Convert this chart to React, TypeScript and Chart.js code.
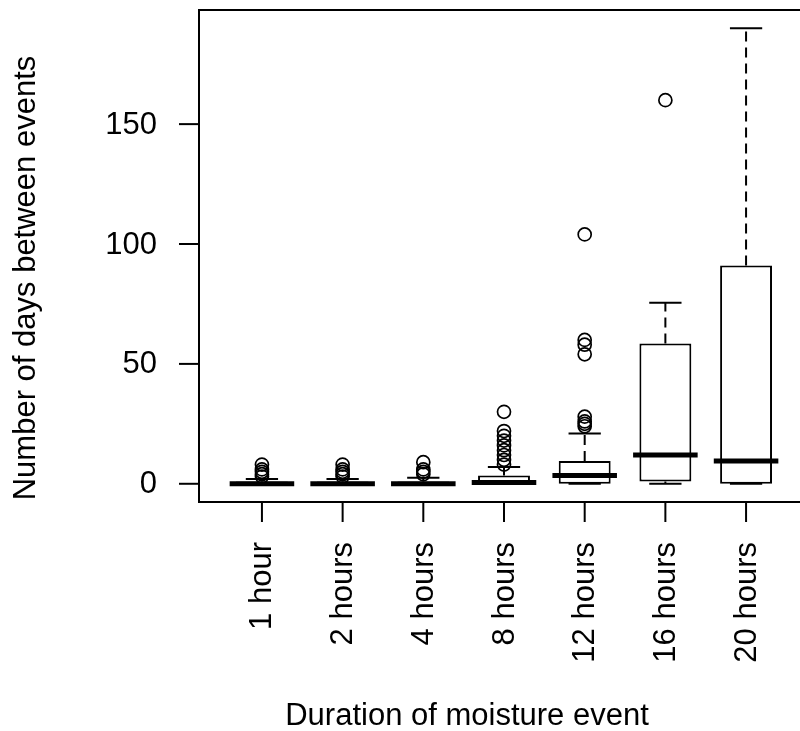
import React, { useEffect, useRef } from "react";
import { Chart, registerables } from "chart.js";

Chart.register(...registerables);

// ---- data ----
const categories = ["1 hour", "2 hours", "4 hours", "8 hours", "12 hours", "16 hours", "20 hours"];
const whiskerLow = [0, 0, 0, 0, 0, 0, 0];
const q1 = [0, 0, 0, 0, 0, 1, 0];
const medians = [0, 0, 0, 0.5, 3.5, 12, 9.5];
const q3 = [1, 1, 1, 3.5, 9.5, 58.5, 91];
const whiskerHigh = [2, 2, 2.5, 7, 21, 75.5, 190];
const outliers1h = [3, 4, 5, 6, 8];
const outliers2h = [3, 4, 5, 6, 8];
const outliers4h = [4, 5, 6, 9];
const outliers8h = [8, 10, 12, 14, 16, 18, 20, 22, 30];
const outliers12h = [24, 25, 26, 28, 54, 58, 60, 104];
const outliers16h = [160];
const outliers20h: number[] = [];
const outliers = [outliers1h, outliers2h, outliers4h, outliers8h, outliers12h, outliers16h, outliers20h];
const yTicks = [0, 50, 100, 150];
const xTitle = "Duration of moisture event";
const yTitle = "Number of days between events";

const FONT = "31px 'Liberation Sans', Arial, sans-serif";
const LW = 2;

const rPlot = {
  id: "rBoxplot",
  afterDatasetsDraw(chart: any) {
    const { ctx, chartArea, scales } = chart;
    const x = scales.x;
    const y = scales.y;
    ctx.save();
    ctx.beginPath();
    ctx.rect(chartArea.left, chartArea.top, chartArea.right - chartArea.left, chartArea.bottom - chartArea.top);
    ctx.clip();
    ctx.strokeStyle = "#000";
    categories.forEach((_, i) => {
      const cx = x.getPixelForValue(i + 1);
      const half = x.getPixelForValue(i + 1.4) - cx;
      const stapleHalf = half / 2;
      // whiskers
      ctx.lineWidth = LW;
      ctx.setLineDash([10, 6]);
      ctx.beginPath();
      ctx.moveTo(cx, y.getPixelForValue(q3[i]));
      ctx.lineTo(cx, y.getPixelForValue(whiskerHigh[i]));
      ctx.moveTo(cx, y.getPixelForValue(q1[i]));
      ctx.lineTo(cx, y.getPixelForValue(whiskerLow[i]));
      ctx.stroke();
      ctx.setLineDash([]);
      // staples
      ctx.beginPath();
      const yh = y.getPixelForValue(whiskerHigh[i]);
      const yl = y.getPixelForValue(whiskerLow[i]);
      ctx.moveTo(cx - stapleHalf, yh);
      ctx.lineTo(cx + stapleHalf, yh);
      ctx.moveTo(cx - stapleHalf, yl);
      ctx.lineTo(cx + stapleHalf, yl);
      ctx.stroke();
      // median
      ctx.lineWidth = 5;
      ctx.beginPath();
      const ym = y.getPixelForValue(medians[i]);
      ctx.moveTo(cx - half, ym);
      ctx.lineTo(cx + half, ym);
      ctx.stroke();
    });
    ctx.restore();
  },
  afterDraw(chart: any) {
    const { ctx, chartArea, scales } = chart;
    const x = scales.x;
    const y = scales.y;
    ctx.save();
    ctx.strokeStyle = "#000";
    ctx.fillStyle = "#000";
    ctx.lineWidth = LW;
    // frame
    ctx.strokeRect(chartArea.left, chartArea.top, chartArea.right - chartArea.left, chartArea.bottom - chartArea.top);
    const tick = 20;
    // y ticks
    ctx.font = FONT;
    ctx.textAlign = "right";
    ctx.textBaseline = "middle";
    yTicks.forEach((v) => {
      const py = y.getPixelForValue(v);
      ctx.beginPath();
      ctx.moveTo(chartArea.left - tick, py);
      ctx.lineTo(chartArea.left, py);
      ctx.stroke();
      ctx.fillText(String(v), chartArea.left - 42, py + 1);
    });
    // x ticks
    categories.forEach((c, i) => {
      const px = x.getPixelForValue(i + 1);
      ctx.beginPath();
      ctx.moveTo(px, chartArea.bottom);
      ctx.lineTo(px, chartArea.bottom + tick);
      ctx.stroke();
      ctx.save();
      ctx.translate(px + 1, chartArea.bottom + 40);
      ctx.rotate(-Math.PI / 2);
      ctx.textAlign = "right";
      ctx.textBaseline = "middle";
      ctx.fillText(c, 0, 0);
      ctx.restore();
    });
    // titles
    ctx.textAlign = "center";
    ctx.textBaseline = "alphabetic";
    ctx.fillText(xTitle, 467, 725);
    ctx.save();
    ctx.translate(35, 278);
    ctx.rotate(-Math.PI / 2);
    ctx.fillText(yTitle, 0, 0);
    ctx.restore();
    ctx.restore();
  },
};

export default function App() {
  const ref = useRef<HTMLCanvasElement | null>(null);
  useEffect(() => {
    if (!ref.current) return;
    const boxData = categories.map((_, i) => ({ x: i + 1, y: [q1[i], q3[i]] }));
    const outlierData: { x: number; y: number }[] = [];
    outliers.forEach((arr, i) => arr.forEach((v) => outlierData.push({ x: i + 1, y: v })));
    const chart = new Chart(ref.current, {
      type: "bar",
      data: {
        datasets: [
          {
            type: "bar",
            data: boxData as any,
            backgroundColor: "#fff",
            borderColor: "#000",
            borderWidth: LW,
            borderSkipped: false,
            barPercentage: 0.825,
            categoryPercentage: 1,
            order: 2,
          } as any,
          {
            type: "scatter",
            data: outlierData,
            pointRadius: 6.5,
            pointBorderWidth: 1.7,
            pointBackgroundColor: "rgba(0,0,0,0)",
            pointBorderColor: "#000",
            pointHoverRadius: 6.5,
            order: 1,
          } as any,
        ],
      },
      options: {
        responsive: false,
        animation: false,
        devicePixelRatio: 1,
        layout: { padding: { left: 199, top: 10, right: 11, bottom: 229 } },
        plugins: { legend: { display: false }, tooltip: { enabled: false } },
        scales: {
          x: { type: "linear", min: 0.22, max: 7.78, offset: false, display: false },
          y: { type: "linear", min: -7.6, max: 197.6, display: false },
        },
      },
      plugins: [rPlot],
    });
    return () => chart.destroy();
  }, []);
  return (
    <div style={{ position: "fixed", left: 0, top: 0, width: 800, height: 731, overflow: "hidden", background: "#fff" }}>
      <canvas ref={ref} width={820} height={731} style={{ width: 820, height: 731, display: "block" }} />
    </div>
  );
}
